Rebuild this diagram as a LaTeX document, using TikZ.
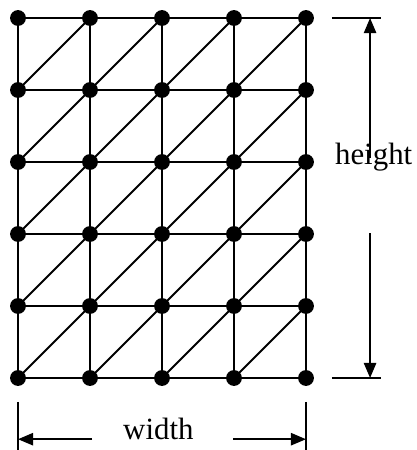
\documentclass[tikz,border=0pt]{standalone}
\usepackage{fontspec}
\setmainfont{Liberation Serif}
\usetikzlibrary{arrows.meta}

\begin{document}
\begin{tikzpicture}[line width=0.8pt,>={Triangle[length=2.1mm,width=1.7mm]},
    dot/.style={circle,fill,inner sep=0pt,minimum size=2.2mm},
    dimtext/.style={font=\fontsize{12.2}{14}\selectfont,anchor=base}]
        \useasboundingbox (0,0) rectangle (5.778,-6.25);
        % mesh nodes
        \foreach \i in {0,...,4}
          \foreach \j in {0,...,5}
            \node[dot] (p-\i-\j) at (0.25+\i,-0.25-\j) {};
        % edges
        \foreach \i in {0,...,4}
          \draw (p-\i-0.center) -- (p-\i-5.center);
        \foreach \j in {0,...,5}
          \draw (p-0-\j.center) -- (p-4-\j.center);
        \foreach \i [count=\k] in {0,...,3}
          \foreach \j [count=\m from 0] in {1,...,5}
            \draw (p-\i-\j.center) -- (p-\k-\m.center);
        % height
        \coordinate (ht1) at (4.61,-0.25);
        \coordinate (ht2) at (5.29,-0.25);
        \coordinate (hb1) at (4.61,-5.25);
        \coordinate (hb2) at (5.29,-5.25);
        \coordinate (ha1) at (5.14,-2.2);
        \coordinate (ha2) at (5.14,-3.24);
        \draw (ht1) -- (ht2);
        \draw (hb1) -- (hb2);
        \draw[->] (ha1) -- (ha1 |- ht1);
        \draw[->] (ha2) -- (ha2 |- hb1);
        \node[dimtext] (hlabel) at (5.19,-2.29) {height};
        % width
        \coordinate (wl) at (0.25,-5.58);
        \coordinate (wr) at (4.25,-5.58);
        \coordinate (wa1) at (1.28,-6.10);
        \coordinate (wa2) at (3.24,-6.10);
        \draw (wl) -- (0.25,-6.25);
        \draw (wr) -- (4.25,-6.25);
        \draw[->] (wa1) -- (wa1 -| wl);
        \draw[->] (wa2) -- (wa2 -| wr);
        \node[dimtext] (wlabel) at (2.2,-6.1) {width};
      \end{tikzpicture}
\end{document}
